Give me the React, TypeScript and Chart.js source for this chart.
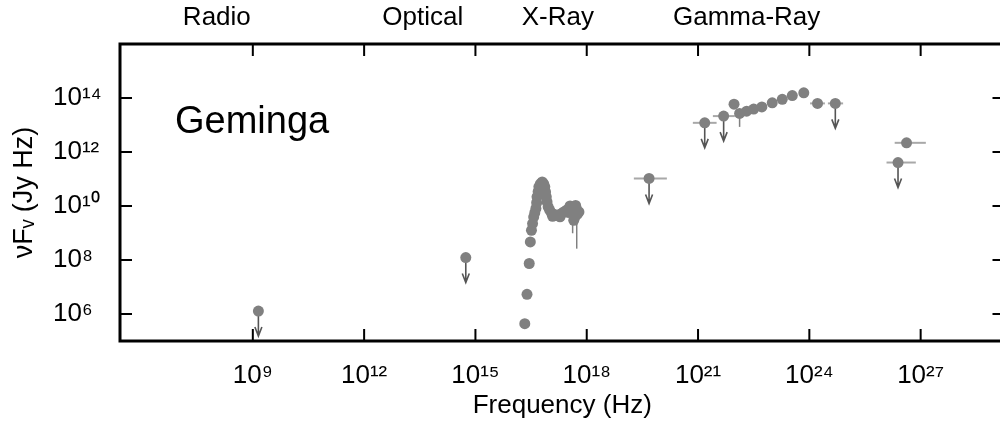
import React, { useEffect, useRef } from 'react';
import { Chart, registerables } from 'chart.js';

Chart.register(...registerables);

const FONT = "'Liberation Sans', Arial, Helvetica, sans-serif";

// axis ranges and ticks (log10 of values)
const xRangeExp = [5.42, 29.26];
const yRangeExp = [5, 16];
const xTickExps = [9, 12, 15, 18, 21, 24, 27];
const yTickExps = [6, 8, 10, 12, 14];

// band labels along top
const bandLabels = ['Radio', 'Optical', 'X-Ray', 'Gamma-Ray'];
const bandLogNu = [8.03, 13.58, 17.22, 22.31];

// X-ray detections (log10 Hz, log10 Jy Hz)
const xrayLogNu = [16.33, 16.39, 16.45, 16.48, 16.51, 16.54, 16.57, 16.6, 16.63, 16.65, 16.66, 16.69, 16.71, 16.75, 16.8, 16.84, 16.87, 16.89, 16.91, 16.93, 16.96, 17.0, 17.05, 17.11, 17.18, 17.25, 17.32, 17.38, 17.45, 17.52, 17.59, 17.66, 17.72, 17.79, 17.68, 17.65, 17.75, 17.55, 17.62, 17.7, 17.5, 17.08, 17.28];
const xrayLogFlux = [5.64, 6.73, 7.87, 8.67, 9.1, 9.35, 9.59, 9.75, 9.91, 10.12, 10.34, 10.53, 10.71, 10.82, 10.89, 10.82, 10.71, 10.52, 10.34, 10.15, 9.97, 9.85, 9.74, 9.69, 9.66, 9.68, 9.72, 9.78, 9.84, 9.9, 9.94, 9.93, 9.91, 9.78, 9.59, 9.47, 9.7, 10.0, 9.75, 10.02, 9.76, 9.62, 9.6];

// Gamma-ray detections
const gammaLogNu = [21.97, 22.12, 22.31, 22.5, 22.72, 23.0, 23.27, 23.54, 23.85, 24.22, 26.62];
const gammaLogFlux = [13.77, 13.43, 13.51, 13.59, 13.67, 13.82, 13.95, 14.09, 14.19, 13.8, 12.34];

// Upper limits
const ulLogNu = [9.15, 14.74, 19.68, 21.18, 21.69, 24.7, 26.39];
const ulLogFlux = [6.11, 8.09, 11.02, 13.08, 13.33, 13.8, 11.61];

// horizontal (energy band) bars
const hbarLoLogNu = [19.27, 20.86, 21.4, 24.02, 24.5, 26.3, 26.08];
const hbarHiLogNu = [20.16, 21.5, 21.99, 24.42, 24.91, 27.14, 26.87];
const hbarLogFlux = [11.02, 13.08, 13.33, 13.8, 13.8, 12.34, 11.61];

// vertical error bars
const vbarLogNu = [22.12, 17.73, 17.62];
const vbarLoLogFlux = [12.93, 8.42, 8.99];
const vbarHiLogFlux = [13.43, 9.9, 9.6];

const SUP: Record<string, string> = { '0': '⁰', '1': '¹', '2': '²', '3': '³', '4': '⁴', '5': '⁵', '6': '⁶', '7': '⁷', '8': '⁸', '9': '⁹', '-': '⁻' };
const pow10Label = (v: number) => '10' + String(Math.round(Math.log10(v))).split('').map((c) => SUP[c] ?? c).join('');

const p = (e: number) => Math.pow(10, e);

const framePlugin = {
  id: 'frameAndMarks',
  beforeDatasetsDraw(chart: any) {
    const { ctx, scales } = chart;
    const xs = scales.x;
    const ys = scales.y;
    ctx.save();
    ctx.lineWidth = 2;
    ctx.strokeStyle = '#a8a8a8';
    hbarLogFlux.forEach((f, i) => {
      const y = ys.getPixelForValue(p(f));
      ctx.beginPath();
      ctx.moveTo(xs.getPixelForValue(p(hbarLoLogNu[i])), y);
      ctx.lineTo(xs.getPixelForValue(p(hbarHiLogNu[i])), y);
      ctx.stroke();
    });
    ctx.strokeStyle = '#808080';
    ctx.lineWidth = 1.5;
    vbarLogNu.forEach((n, i) => {
      const x = xs.getPixelForValue(p(n));
      ctx.beginPath();
      ctx.moveTo(x, ys.getPixelForValue(p(vbarLoLogFlux[i])));
      ctx.lineTo(x, ys.getPixelForValue(p(vbarHiLogFlux[i])));
      ctx.stroke();
    });
    // upper-limit arrows
    ctx.strokeStyle = '#555555';
    ctx.lineWidth = 1.6;
    ulLogNu.forEach((n, i) => {
      const x = xs.getPixelForValue(p(n));
      const y0 = ys.getPixelForValue(p(ulLogFlux[i]));
      const y1 = y0 + 25;
      ctx.beginPath();
      ctx.moveTo(x, y0);
      ctx.lineTo(x, y1);
      ctx.moveTo(x - 3.5, y1 - 9);
      ctx.lineTo(x, y1);
      ctx.lineTo(x + 3.5, y1 - 9);
      ctx.stroke();
    });
    ctx.restore();
  },
  afterDraw(chart: any) {
    const { ctx, chartArea: a, scales } = chart;
    ctx.save();
    // label inside plot
    ctx.fillStyle = '#000';
    ctx.font = `38px ${FONT}`;
    ctx.textBaseline = 'alphabetic';
    ctx.textAlign = 'left';
    ctx.fillText('Geminga', a.left + 55, a.top + 89);
    // frame
    ctx.strokeStyle = '#000';
    ctx.lineWidth = 3;
    ctx.strokeRect(a.left, a.top, a.right - a.left, a.bottom - a.top);
    // inward ticks
    const tl = 12;
    ctx.lineWidth = 2;
    ctx.beginPath();
    scales.x.ticks.forEach((t: any) => {
      const x = scales.x.getPixelForValue(t.value);
      ctx.moveTo(x, a.bottom);
      ctx.lineTo(x, a.bottom - tl);
      ctx.moveTo(x, a.top);
      ctx.lineTo(x, a.top + tl);
    });
    scales.y.ticks.forEach((t: any) => {
      const y = scales.y.getPixelForValue(t.value);
      ctx.moveTo(a.left, y);
      ctx.lineTo(a.left + tl, y);
      ctx.moveTo(a.right, y);
      ctx.lineTo(a.right - tl, y);
    });
    ctx.stroke();
    ctx.restore();
  },
};

export default function App() {
  const ref = useRef<HTMLCanvasElement | null>(null);
  useEffect(() => {
    if (!ref.current) return;
    const pts = (nu: number[], fl: number[]) => nu.map((n, i) => ({ x: p(n), y: p(fl[i]) }));
    const pointStyle = {
      pointRadius: 5.5,
      pointBackgroundColor: '#808080',
      pointBorderWidth: 0,
      pointBorderColor: '#808080',
      showLine: false,
    };
    const chart = new Chart(ref.current, {
      type: 'scatter',
      data: {
        datasets: [
          { label: 'X-ray', data: pts(xrayLogNu, xrayLogFlux), ...pointStyle },
          { label: 'Gamma-ray', data: pts(gammaLogNu, gammaLogFlux), ...pointStyle },
          { label: 'Upper limits', data: pts(ulLogNu, ulLogFlux), ...pointStyle },
        ],
      },
      options: {
        responsive: false,
        animation: false,
        layout: { padding: { left: 53, right: 5, top: 0, bottom: 0 } },
        plugins: { legend: { display: false }, tooltip: { enabled: false } },
        scales: {
          x: {
            type: 'logarithmic',
            position: 'bottom',
            min: p(xRangeExp[0]),
            max: p(xRangeExp[1]),
            grid: { display: false },
            border: { display: false },
            afterBuildTicks: (s: any) => {
              s.ticks = xTickExps.map((e) => ({ value: p(e) }));
            },
            afterFit: (s: any) => {
              s.height = 81;
            },
            ticks: {
              autoSkip: false,
              maxRotation: 0,
              padding: 11,
              color: '#000',
              font: { family: FONT, size: 26 },
              callback: (v: any) => pow10Label(Number(v)),
            },
            title: {
              display: true,
              text: 'Frequency (Hz)',
              color: '#000',
              font: { family: FONT, size: 26, lineHeight: 1.2 },
              padding: { top: 0, bottom: 1 },
            },
          },
          xTop: {
            type: 'logarithmic',
            position: 'top',
            min: p(xRangeExp[0]),
            max: p(xRangeExp[1]),
            grid: { display: false },
            border: { display: false },
            afterBuildTicks: (s: any) => {
              s.ticks = bandLogNu.map((e) => ({ value: p(e) }));
            },
            afterFit: (s: any) => {
              s.height = 44;
            },
            ticks: {
              autoSkip: false,
              maxRotation: 0,
              padding: 3,
              color: '#000',
              font: { family: FONT, size: 26 },
              callback: (_v: any, i: number) => bandLabels[i],
            },
          },
          y: {
            type: 'logarithmic',
            position: 'left',
            min: p(yRangeExp[0]),
            max: p(yRangeExp[1]),
            grid: { display: false },
            border: { display: false },
            afterBuildTicks: (s: any) => {
              s.ticks = yTickExps.map((e) => ({ value: p(e) }));
            },
            afterFit: (s: any) => {
              s.width = 67;
            },
            ticks: {
              autoSkip: false,
              crossAlign: 'far',
              padding: 0,
              color: '#000',
              font: { family: FONT, size: 26 },
              callback: (v: any) => pow10Label(Number(v)),
            },
            title: {
              display: true,
              text: 'νFᵥ (Jy Hz)',
              color: '#000',
              font: { family: FONT, size: 27, lineHeight: 1.2 },
              padding: { top: -44.2, bottom: 0 },
            },
          },
        },
      } as any,
      plugins: [framePlugin],
    });
    return () => chart.destroy();
  }, []);
  return (
    <div style={{ position: 'fixed', left: 0, top: 0, width: 1000, height: 422, overflow: 'hidden', background: '#fff' }}>
      <canvas ref={ref} width={1010} height={422} style={{ display: 'block', width: 1010, height: 422 }} />
    </div>
  );
}
